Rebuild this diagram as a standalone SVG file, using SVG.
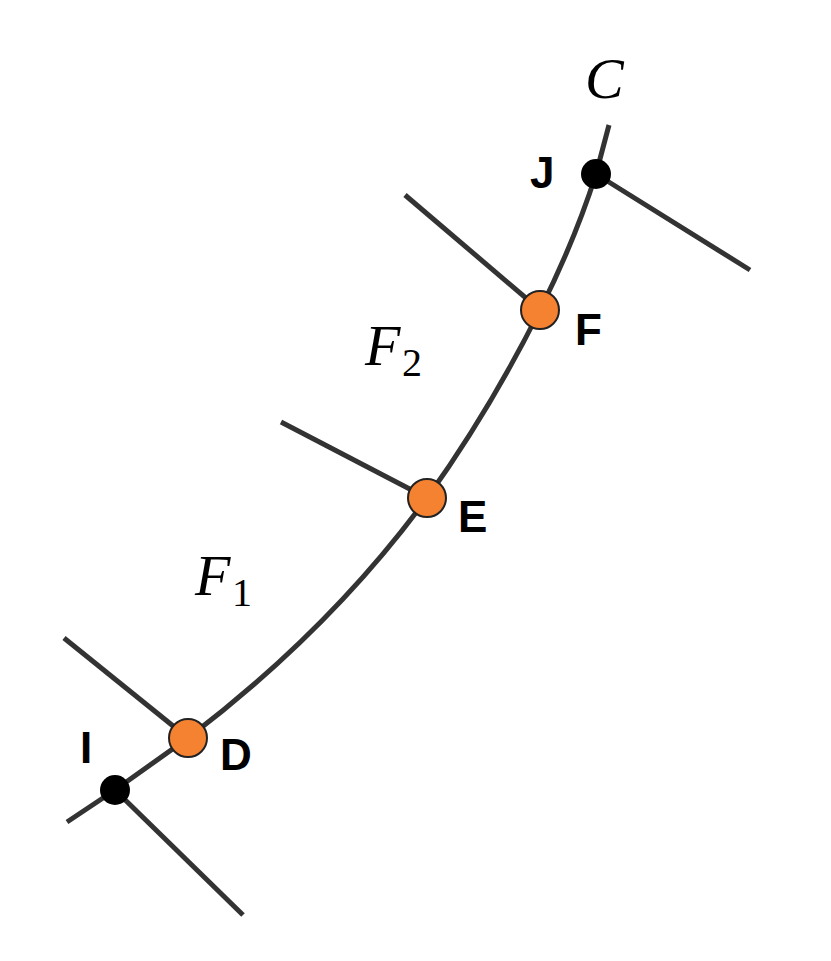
<svg xmlns="http://www.w3.org/2000/svg" width="831" height="961" viewBox="0 0 831 961">
<style>
.ln{fill:none;stroke:#333;stroke-width:5;stroke-linecap:butt}
.lb{font-family:"Liberation Sans",Arial,sans-serif;font-weight:bold;font-size:44px;fill:#000}
.mt{font-family:"Liberation Serif","Times New Roman",serif;font-style:italic;font-size:58px;fill:#000}
.sb{font-family:"Liberation Serif","Times New Roman",serif;font-size:40px;fill:#000}
.or{fill:#f58231;stroke:#222;stroke-width:2}
</style>
<rect width="831" height="961" fill="#fff"/>
<g id="connectors">
<path class="ln" d="M67,822 L115,790 Q150,765 188,738 Q330,630 427,498 Q490,410 540,310 Q575,240 596,174 L609,125"/>
<line class="ln" x1="115" y1="790" x2="243" y2="915"/>
<line class="ln" x1="188" y1="738" x2="64" y2="638"/>
<line class="ln" x1="427" y1="498" x2="281" y2="422"/>
<line class="ln" x1="540" y1="310" x2="405" y2="195"/>
<line class="ln" x1="596" y1="174" x2="750" y2="270"/>
</g>
<g id="I"><circle cx="115" cy="790" r="15" fill="#000"/><text class="lb" x="80" y="763">I</text></g>
<g id="D"><circle class="or" cx="188" cy="738" r="19"/><text class="lb" x="220" y="770">D</text></g>
<g id="E"><circle class="or" cx="427" cy="498" r="19"/><text class="lb" x="458" y="532">E</text></g>
<g id="F"><circle class="or" cx="540" cy="310" r="19"/><text class="lb" x="575" y="345">F</text></g>
<g id="J"><circle cx="596" cy="174" r="15" fill="#000"/><text class="lb" x="530" y="188">J</text></g>
<g id="labels">
<text class="mt" x="585" y="98">C</text>
<text class="mt" x="365" y="365">F</text><text class="sb" x="402" y="376">2</text>
<text class="mt" x="195" y="595">F</text><text class="sb" x="232" y="606">1</text>
</g>
</svg>
